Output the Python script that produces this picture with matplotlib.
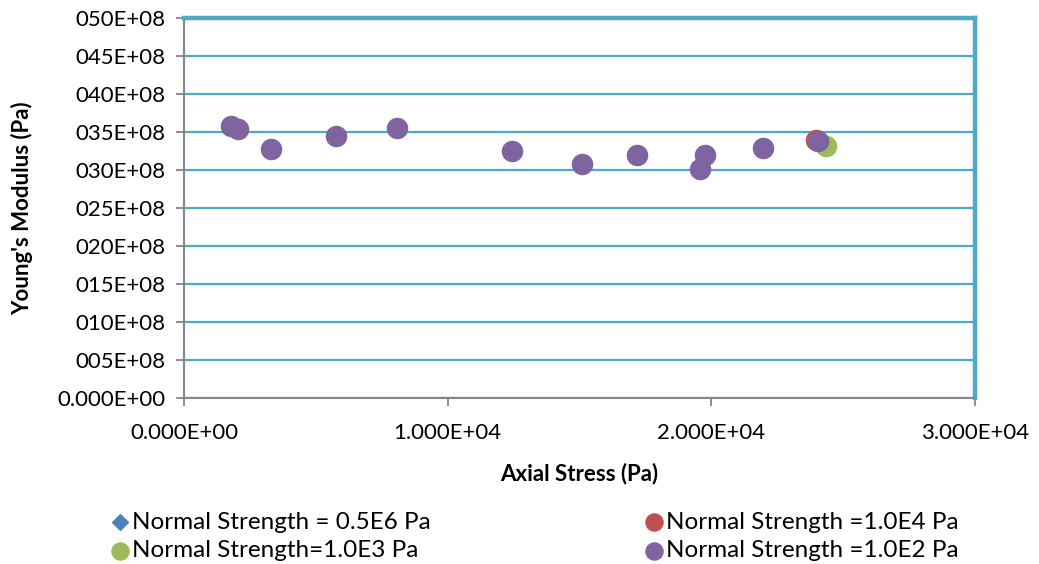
import matplotlib.pyplot as plt
from matplotlib.ticker import FixedLocator, FixedFormatter

plt.rcParams['font.family'] = ['Lato', 'DejaVu Sans']

# Young's modulus (x1E+08 Pa) vs axial stress (Pa)
stress_e2 = [1780, 2050, 3300, 5760, 8080, 12440, 15090, 17180, 19760, 19570, 21960, 24040]
modulus_e2 = [35.8, 35.4, 32.8, 34.5, 35.5, 32.5, 30.8, 32.0, 32.0, 30.1, 32.9, 33.8]
stress_e4 = [23980]
modulus_e4 = [34.0]
stress_e3 = [24350]
modulus_e3 = [33.2]
stress_e6 = []
modulus_e6 = []

y_ticks = [0, 5, 10, 15, 20, 25, 30, 35, 40, 45, 50]
y_labels = ['0.000E+00', '005E+08', '010E+08', '015E+08', '020E+08', '025E+08',
            '030E+08', '035E+08', '040E+08', '045E+08', '050E+08']
x_ticks = [0, 10000, 20000, 30000]
x_labels = ['0.000E+00', '1.000E+04', '2.000E+04', '3.000E+04']

teal = '#4BACC6'
grey = '#868686'

fig = plt.figure(figsize=(10.39, 5.64), dpi=100)
ax = fig.add_axes([184 / 1039, 1 - 398 / 564, (975 - 184) / 1039, (398 - 18) / 564])

ax.scatter(stress_e6, modulus_e6, marker='D', s=90, color='#4F81BD',
           label='Normal Strength = 0.5E6 Pa', zorder=3)
ax.scatter(stress_e3, modulus_e3, s=210, color='#9BBB59',
           label='Normal Strength=1.0E3 Pa', zorder=3)
ax.scatter(stress_e4, modulus_e4, s=210, color='#C0504D',
           label='Normal Strength =1.0E4 Pa', zorder=4)
ax.scatter(stress_e2, modulus_e2, s=210, color='#8064A2',
           label='Normal Strength =1.0E2 Pa', zorder=5)

ax.set_xlim(0, 30000)
ax.set_ylim(0, 50)
ax.xaxis.set_major_locator(FixedLocator(x_ticks))
ax.xaxis.set_major_formatter(FixedFormatter(x_labels))
ax.yaxis.set_major_locator(FixedLocator(y_ticks))
ax.yaxis.set_major_formatter(FixedFormatter(y_labels))

ax.grid(axis='y', color=teal, linewidth=1.6)
ax.set_axisbelow(True)
ax.tick_params(axis='both', direction='out', length=6, width=1.3, color=grey,
               labelsize=16)
ax.tick_params(axis='x', pad=12)
ax.tick_params(axis='y', pad=7)

for side in ['top', 'right']:
    ax.spines[side].set_color(teal)
    ax.spines[side].set_linewidth(3.2)
ax.spines['left'].set_color(grey)
ax.spines['left'].set_linewidth(1.5)
ax.spines['bottom'].set_color(grey)
ax.spines['bottom'].set_linewidth(1.5)

ax.set_xlabel('Axial Stress (Pa)', fontsize=16, fontweight='bold', labelpad=14)
ax.set_ylabel("Young's Modulus (Pa)", fontsize=16, fontweight='bold', labelpad=18)

handles, labels = ax.get_legend_handles_labels()
fig.legend(handles, labels, ncol=2, loc='lower left', bbox_to_anchor=(0.083, -0.034),
           frameon=False, fontsize=17.5, handletextpad=0.0, handlelength=1.0,
           columnspacing=8.65, labelspacing=0.32, markerscale=0.85)

fig.savefig('out.png', dpi=100)
